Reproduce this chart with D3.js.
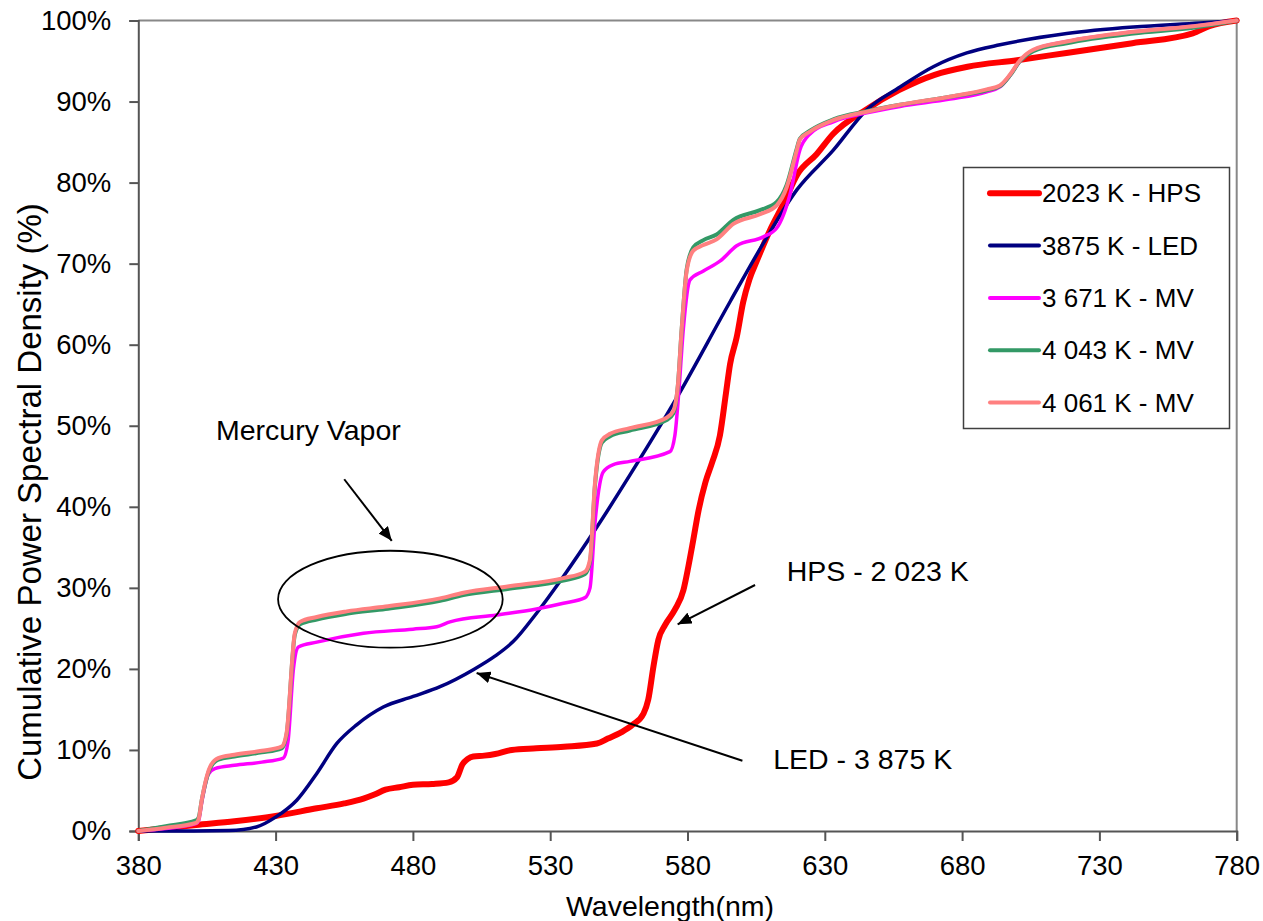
<!DOCTYPE html>
<html>
<head>
<meta charset="utf-8">
<script src="https://cdn.jsdelivr.net/npm/d3@7"></script>
<style>
  html, body { margin: 0; padding: 0; background: #fff; }
  svg { display: block; font-family: "Liberation Sans", Arial, sans-serif; }
</style>
</head>
<body>
<svg id="chart" width="1263" height="921"></svg>
<script>
// ---------------- DATA ----------------
const xTicks = [380, 430, 480, 530, 580, 630, 680, 730, 780];
const yTicks = [0, 10, 20, 30, 40, 50, 60, 70, 80, 90, 100];

const seriesNames = ["2023 K - HPS", "3875 K - LED", "3 671 K - MV", "4 043 K - MV", "4 061 K - MV"];
const seriesColors = ["#FF0000", "#000080", "#FF00FF", "#339966", "#FF8080"];

// 2023 K - HPS
const hpsNm  = [380, 401, 415, 430, 445, 455, 462, 466, 470, 475, 480, 487, 493, 496, 498, 500, 502, 506, 510, 516, 525, 535, 547, 551, 556, 560, 564, 565.7, 567.6, 569.4, 571.8, 575.4, 578.5, 580.3, 582.1, 584, 586.5, 589, 591.8, 594, 595.5, 597.9, 600.3, 602.5, 605.2, 610, 615, 620, 627, 633, 645, 657, 670, 682, 700, 718, 742, 764, 770, 780];
const hpsPct = [0, 0.75, 1.2, 1.85, 2.8, 3.4, 4.0, 4.5, 5.1, 5.4, 5.7, 5.8, 6.0, 6.6, 8.2, 8.9, 9.2, 9.3, 9.5, 10.0, 10.2, 10.4, 10.8, 11.4, 12.2, 13.1, 14.5, 16.2, 20.3, 23.6, 25.4, 27.3, 29.7, 32.6, 35.9, 39.5, 43.0, 45.5, 48.8, 54.0, 57.6, 60.9, 65.3, 68.0, 70.3, 74.1, 77.4, 81.0, 83.5, 86.0, 89.0, 91.4, 93.3, 94.3, 95.1, 96.0, 97.2, 98.4, 99.3, 100];

// 3875 K - LED
const ledNm  = [380, 400, 413, 423, 430.4, 437.7, 445, 452.3, 459.5, 469.2, 480.1, 489.9, 502, 510, 516.6, 525.1, 534.8, 547, 559, 576, 595.5, 607.6, 619.8, 633.1, 645.3, 657.4, 669.5, 681.7, 693.8, 718.1, 742.4, 766.6, 780];
const ledPct = [0, 0, 0.05, 0.5, 1.8, 3.8, 7.1, 10.8, 13.1, 15.3, 16.6, 17.8, 19.9, 21.6, 23.4, 26.9, 31.4, 37.5, 43.9, 53.4, 65.3, 72.5, 79.1, 84.0, 89.0, 91.8, 94.3, 96.0, 97.0, 98.4, 99.2, 99.7, 100];

// 3 671 K - MV
const mv1Nm  = [380, 390, 401, 402, 403.1, 405.5, 407.9, 415, 425, 432.8, 434.5, 436.5, 438.3, 445, 462, 480, 488.7, 493.5, 510.5, 525, 534.8, 542.7, 544.5, 546.3, 549.3, 553, 559, 573.6, 575.4, 576.8, 578.5, 580.9, 585.8, 591.8, 597.9, 607.6, 612.5, 617.3, 620.9, 624.6, 633.1, 645.3, 657.4, 675.6, 689, 693.8, 697.4, 701.1, 705.9, 718.1, 742.4, 764.2, 780];
const mv1Pct = [0, 0.3, 0.9, 1.3, 3.5, 7.0, 7.7, 8.1, 8.5, 9.0, 11.0, 20.0, 22.7, 23.3, 24.4, 24.9, 25.2, 25.8, 26.65, 27.4, 28.1, 28.8, 30.0, 38.0, 44.3, 45.2, 45.6, 46.8, 48.8, 54.0, 62.0, 68.0, 69.1, 70.3, 72.2, 73.3, 74.4, 78.5, 84.0, 86.0, 87.5, 88.6, 89.4, 90.3, 91.2, 91.8, 93.2, 95.0, 96.3, 97.4, 98.6, 99.3, 100];

// 4 043 K - MV
const mv2Nm  = [380, 390, 401, 402, 403.1, 406.1, 409.1, 415, 425, 432.2, 434, 437, 438.9, 445, 455.9, 470, 489.9, 498.4, 515, 534.8, 542.7, 544.5, 546.3, 548.8, 551.8, 559, 572.4, 574.8, 576.5, 577.9, 579.7, 582.1, 585.8, 590.6, 596.7, 606.4, 612.5, 616.1, 619.8, 620.9, 624.6, 633.1, 645.3, 657.4, 675.6, 689, 693.8, 697.4, 701.1, 705.9, 718.1, 742.4, 764.2, 780];
const mv2Pct = [0, 0.6, 1.3, 1.7, 3.8, 7.7, 8.8, 9.2, 9.7, 10.2, 11.9, 24.2, 25.5, 26.1, 26.8, 27.4, 28.4, 29.1, 29.9, 30.9, 31.7, 33.2, 42.6, 47.9, 48.7, 49.4, 50.7, 51.5, 55.0, 62.0, 69.3, 72.0, 72.9, 73.6, 75.4, 76.6, 77.6, 79.7, 84.2, 85.4, 86.4, 87.8, 88.8, 89.6, 90.6, 91.4, 91.9, 93.2, 95.0, 96.2, 97.2, 98.4, 99.1, 100];

// 4 061 K - MV
const mv3Nm  = [380, 390, 401, 402, 403.1, 406.1, 409.1, 415, 425, 432.2, 434, 437, 438.9, 445, 455.9, 470, 489.9, 498.4, 515, 534.8, 542.7, 544.5, 546.3, 548.8, 551.8, 559, 572.4, 574.8, 576.5, 577.9, 579.7, 582.1, 585.8, 590.6, 596.7, 606.4, 612.5, 616.1, 619.8, 620.9, 624.6, 633.1, 645.3, 657.4, 675.6, 689, 693.8, 697.4, 701.1, 705.9, 718.1, 742.4, 764.2, 780];
const mv3Pct = [0, 0.4, 1.0, 1.5, 3.8, 7.9, 9.0, 9.4, 9.9, 10.4, 12.1, 24.4, 25.8, 26.4, 27.1, 27.7, 28.7, 29.4, 30.2, 31.2, 32.0, 33.5, 42.9, 48.2, 49.0, 49.7, 51.0, 51.8, 55.0, 62.0, 69.1, 71.6, 72.3, 73.0, 74.9, 76.1, 77.2, 79.4, 84.0, 85.3, 86.3, 87.7, 88.75, 89.6, 90.6, 91.5, 92.0, 93.3, 95.1, 96.4, 97.4, 98.6, 99.3, 100];

// ---------------- CHART ----------------
const svg = d3.select("#chart");
const W = 1263, H = 921;
const m = { left: 138.3, right: 1236.7, top: 20.5, bottom: 831 };

svg.append("rect").attr("width", W).attr("height", H).attr("fill", "#fff");

const x = d3.scaleLinear().domain([380, 780]).range([m.left, m.right]);
const y = d3.scaleLinear().domain([0, 100]).range([m.bottom, m.top]);

// plot border (top/right)
svg.append("path")
  .attr("d", `M${x(380)},${y(100)}H${x(780)}V${y(0)}`)
  .attr("fill", "none").attr("stroke", "#888").attr("stroke-width", 2);

// axes
const yAxis = d3.axisLeft(y).tickValues(yTicks).tickFormat(d => d + "%").tickSize(9).tickPadding(18);
const xAxis = d3.axisBottom(x).tickValues(xTicks).tickFormat(d3.format("d")).tickSize(10).tickPadding(14);

const gy = svg.append("g").attr("transform", `translate(${m.left},0)`).call(yAxis);
const gx = svg.append("g").attr("transform", `translate(0,${m.bottom})`).call(xAxis);
[gx, gy].forEach(g => {
  g.select(".domain").attr("stroke", "#555").attr("stroke-width", 2);
  g.selectAll(".tick line").attr("stroke", "#555").attr("stroke-width", 2);
  g.selectAll(".tick text").attr("fill", "#000").style("font-size", "27.5px")
    .style("font-family", '"Liberation Sans", Arial, sans-serif');
});

// axis titles
svg.append("text").attr("x", 670).attr("y", 916).attr("text-anchor", "middle")
  .style("font-size", "28.5px").text("Wavelength(nm)");
svg.append("text").attr("transform", "translate(41,492) rotate(-90)").attr("text-anchor", "middle")
  .style("font-size", "33px").text("Cumulative Power Spectral Density (%)");

// lines
const line = d3.line().x(d => x(d[0])).y(d => y(d[1])).curve(d3.curveMonotoneX);
const series = [
  { nm: hpsNm, pct: hpsPct, w: 6 },
  { nm: ledNm, pct: ledPct, w: 3.5 },
  { nm: mv1Nm, pct: mv1Pct, w: 3.5 },
  { nm: mv2Nm, pct: mv2Pct, w: 4 },
  { nm: mv3Nm, pct: mv3Pct, w: 4 }
];
series.forEach((s, i) => {
  const pts = s.nm.map((v, j) => [v, s.pct[j]]);
  svg.append("path").datum(pts).attr("d", line)
    .attr("fill", "none").attr("stroke", seriesColors[i])
    .attr("stroke-width", s.w).attr("stroke-linejoin", "round").attr("stroke-linecap", "round");
});

// legend
const lg = svg.append("g");
lg.append("rect").attr("x", 963.5).attr("y", 167.5).attr("width", 266).attr("height", 261)
  .attr("fill", "#fff").attr("stroke", "#404040").attr("stroke-width", 1.5);
seriesNames.forEach((name, i) => {
  const cy = 193.3 + i * 52.3;
  lg.append("line").attr("x1", 990).attr("x2", 1039).attr("y1", cy).attr("y2", cy)
    .attr("stroke", seriesColors[i]).attr("stroke-width", i === 0 ? 6 : 4).attr("stroke-linecap", "round");
  lg.append("text").attr("x", 1042).attr("y", cy).attr("dy", "0.35em")
    .style("font-size", "26px").text(name);
});

// annotations
const defs = svg.append("defs");
defs.append("marker").attr("id", "ah").attr("markerUnits", "userSpaceOnUse")
  .attr("viewBox", "0 0 14 12").attr("refX", 14).attr("refY", 6)
  .attr("markerWidth", 14).attr("markerHeight", 12).attr("orient", "auto")
  .append("path").attr("d", "M0,0L14,6L0,12Z").attr("fill", "#000");

const annotations = [
  { text: "Mercury Vapor", tx: 408.3, ty: 48.3, from: [455.0, 43.4], to: [472.3, 35.8] },
  { text: "LED - 3 875 K", tx: 611.2, ty: 7.6, from: [600.0, 8.67], to: [503.2, 19.5] },
  { text: "HPS - 2 023 K", tx: 616.1, ty: 30.85, from: [604.6, 30.35], to: [576.4, 25.5] }
];
annotations.forEach(a => {
  svg.append("text").attr("x", x(a.tx)).attr("y", y(a.ty)).style("font-size", "28.5px").text(a.text);
  svg.append("line").attr("x1", x(a.from[0])).attr("y1", y(a.from[1]))
    .attr("x2", x(a.to[0])).attr("y2", y(a.to[1]))
    .attr("stroke", "#000").attr("stroke-width", 2).attr("marker-end", "url(#ah)");
});

// ellipse around MV plateau
const ell = { cx: 471.8, cy: 28.6, rxNm: 40.9, ryPct: 5.98 };
svg.append("ellipse")
  .attr("cx", x(ell.cx)).attr("cy", y(ell.cy))
  .attr("rx", x(380 + ell.rxNm) - x(380)).attr("ry", y(0) - y(ell.ryPct))
  .attr("fill", "none").attr("stroke", "#000").attr("stroke-width", 1.8);
</script>
</body>
</html>
